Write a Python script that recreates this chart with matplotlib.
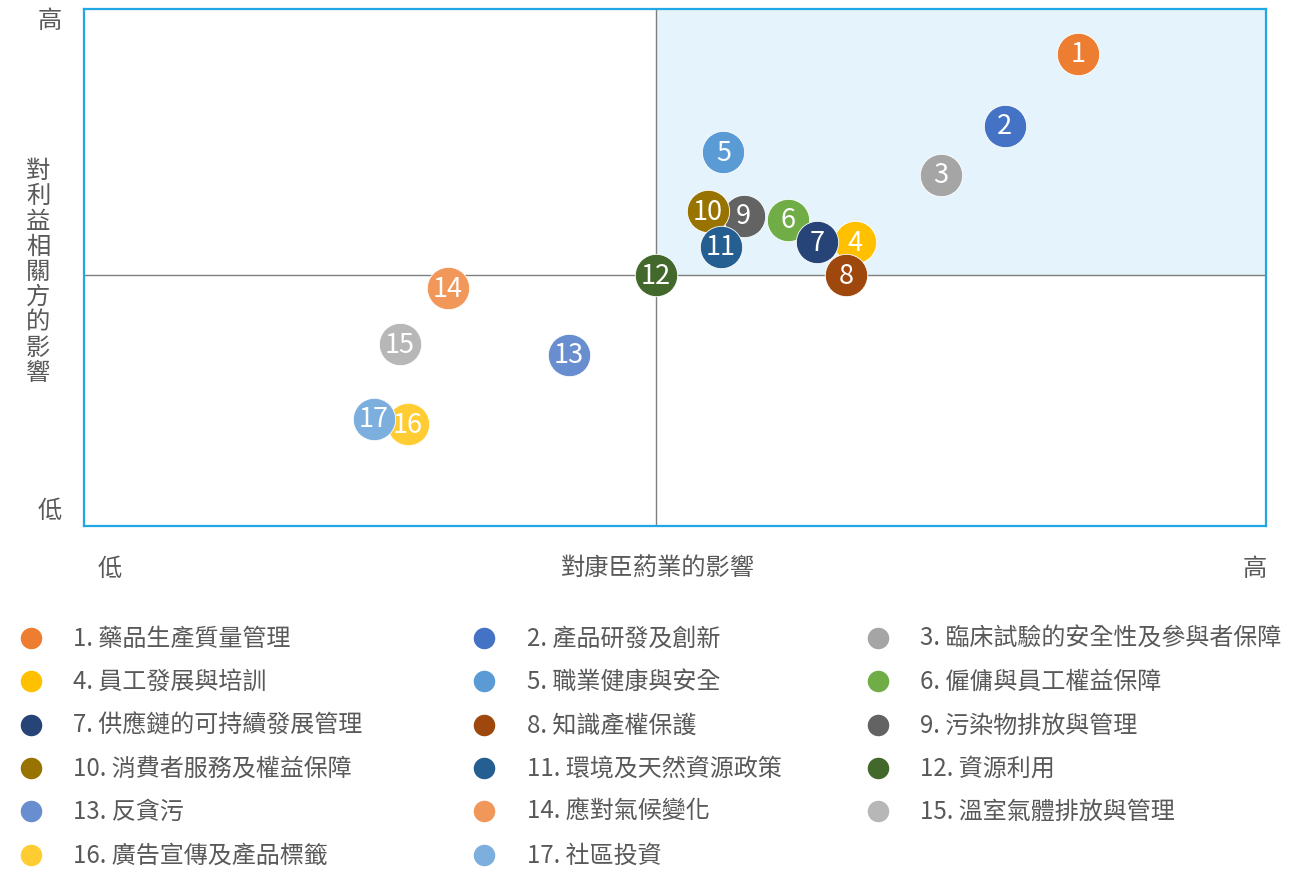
import matplotlib
matplotlib.use("Agg")
import matplotlib.pyplot as plt

plt.rcParams['font.family'] = ['Noto Sans CJK TC', 'DejaVu Sans']

# ---- data ----
ids = list(range(1, 18))
names = ["藥品生產質量管理", "產品研發及創新", "臨床試驗的安全性及參與者保障",
         "員工發展與培訓", "職業健康與安全", "僱傭與員工權益保障",
         "供應鏈的可持續發展管理", "知識產權保護", "污染物排放與管理",
         "消費者服務及權益保障", "環境及天然資源政策", "資源利用",
         "反貪污", "應對氣候變化", "溫室氣體排放與管理",
         "廣告宣傳及產品標籤", "社區投資"]
impact_company = [8.41, 7.79, 7.25, 6.52, 5.41, 5.96, 6.20, 6.45, 5.58,
                  5.28, 5.39, 4.84, 4.10, 3.08, 2.67, 2.74, 2.45]
impact_stakeholder = [9.13, 7.74, 6.79, 5.49, 7.23, 5.92, 5.49, 4.85, 6.00,
                      6.09, 5.40, 4.85, 3.31, 4.60, 3.52, 1.97, 2.07]
colors = ["#ED7D31", "#4472C4", "#A5A5A5", "#FFC000", "#5B9BD5", "#70AD47",
          "#264478", "#9E480E", "#636363", "#997300", "#255E91", "#43682B",
          "#698ED0", "#F1975A", "#B7B7B7", "#FFCD33", "#7CAFDD"]
x_mid, y_mid = 4.84, 4.85
x_label = "對康臣葯業的影響"
y_label = "對利益相關方的影響"
low, high = "低", "高"

TXT = "#595959"
W, H = 1304, 870
fig = plt.figure(figsize=(W / 100, H / 100), dpi=100)

def fx(px):
    return px / W

def fy(py):
    return 1 - py / H

ax = fig.add_axes([fx(84), fy(527), fx(1266) - fx(84), fy(10) - fy(527)])
ax.set_xlim(0, 10)
ax.set_ylim(0, 10)
ax.set_xticks([])
ax.set_yticks([])
for s in ax.spines.values():
    s.set_color("#1FA8E3")
    s.set_linewidth(1.6)

ax.fill_between([x_mid, 10], y_mid, 10, color="#E5F4FC", zorder=0, lw=0)
ax.axvline(x_mid, color="#7F7F7F", lw=1, zorder=1)
ax.axhline(y_mid, color="#7F7F7F", lw=1, zorder=1)

for i, (x, y, c, n) in enumerate(zip(impact_company, impact_stakeholder, colors, ids)):
    ax.scatter([x], [y], s=930, color=c, edgecolors="white", linewidths=0.6,
               zorder=3 + 2 * i)
    ax.text(x, y, str(n), color="white", fontsize=19.5, ha="center", va="center",
            zorder=4 + 2 * i)

# axis labels
FS = 17.5
fig.text(fx(110), fy(569), low, color=TXT, fontsize=FS, ha="center", va="center")
fig.text(fx(1255), fy(569), high, color=TXT, fontsize=FS, ha="center", va="center")
fig.text(fx(658), fy(569), x_label, color=TXT, fontsize=FS, ha="center", va="center")
fig.text(fx(50), fy(21), high, color=TXT, fontsize=FS, ha="center", va="center")
fig.text(fx(50), fy(511), low, color=TXT, fontsize=FS, ha="center", va="center")
fig.text(fx(38), fy(272), "\n".join(y_label), color=TXT, fontsize=FS,
         ha="center", va="center", linespacing=0.96)

# legend
col_mx = [31, 484, 878]
col_tx = [73, 527, 920]
row_y = [639, 682, 726, 769, 812, 856]
lax = fig.add_axes([0, 0, 1, 1], zorder=-1)
lax.set_xlim(0, W)
lax.set_ylim(H, 0)
lax.axis("off")
for k, (n, name, c) in enumerate(zip(ids, names, colors)):
    r, col = divmod(k, 3)
    lax.scatter([col_mx[col]], [row_y[r]], s=240, color=c, lw=0)
    lax.text(col_tx[col], row_y[r], f"{n}. {name}", color=TXT, fontsize=17.3,
             ha="left", va="center")

fig.savefig("out.png", dpi=100)
